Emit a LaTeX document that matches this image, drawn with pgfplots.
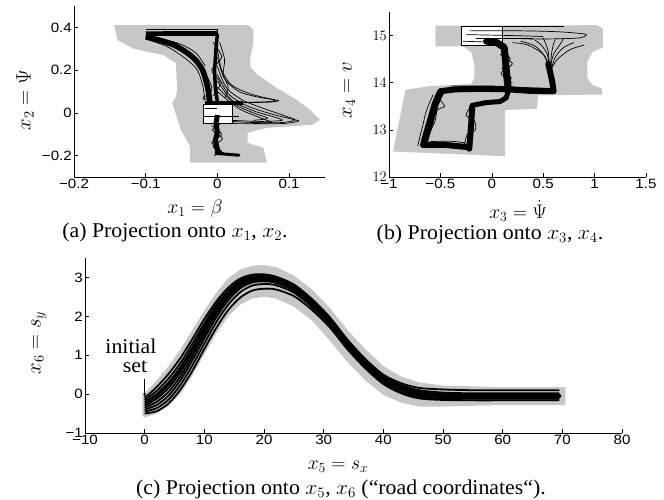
\documentclass[border=0pt]{standalone}
\usepackage{fontspec}
\setmainfont{Liberation Serif}
\setsansfont{Liberation Sans}
\newfontfamily\tickfont[FakeStretch=1.12]{Liberation Sans}
\usepackage{graphicx}
\usepackage{pgfplots}
\pgfplotsset{compat=1.18}
\usepackage{pgfplotstable}

\colorlet{reach}{black!22}
\newcommand{\lab}[1]{\scalebox{0.95}[0.95]{\fontsize{20}{22}\selectfont#1}}
\newcommand{\ylab}[1]{\scalebox{1}[1]{\fontsize{20}{22}\selectfont#1}}
\newcommand{\capt}[1]{\scalebox{1.04}[1]{\fontsize{21}{23}\selectfont#1}}

\pgfplotsset{
  matlab/.style={
    scale only axis,
    anchor=south west,
    axis x line=bottom, axis y line=left,
    axis line style={-, line width=0.6pt},
    tick align=inside,
    major tick length=4pt,
    tick style={black, line width=0.6pt},
    tick label style={font=\tickfont\fontsize{13.5}{15}\selectfont, inner sep=2pt},
  },
  bundle/.style={black, line width=#1, line join=round, line cap=round},
  band/.style={black, line width=#1, line join=round, line cap=butt},
  strand/.style={black, line width=0.7pt, smooth, tension=0.5},
}

% (c) road coordinates: sampled trajectories
\pgfplotstableread{
x    l1    l2    l3    l4    l5    l6    l7    l8    l9
0   -0.10 -0.15 -0.20 -0.25 -0.30 -0.35 -0.40 -0.45 -0.50
2    0.18  0.08  0.00 -0.06 -0.12 -0.20 -0.28 -0.36 -0.44
4    0.52  0.40  0.30  0.24  0.16  0.06 -0.04 -0.14 -0.24
6    0.93  0.80  0.70  0.64  0.56  0.46  0.36  0.24  0.12
8    1.42  1.30  1.20  1.14  1.06  0.97  0.87  0.74  0.60
10   1.93  1.82  1.74  1.68  1.61  1.53  1.43  1.30  1.16
12   2.38  2.30  2.24  2.19  2.12  2.06  1.97  1.85  1.70
14   2.74  2.67  2.62  2.58  2.53  2.48  2.41  2.30  2.16
16   2.97  2.92  2.88  2.85  2.81  2.77  2.72  2.62  2.48
18   3.07  3.03  3.00  2.97  2.94  2.91  2.87  2.79  2.66
20   3.08  3.04  3.01  2.98  2.96  2.93  2.90  2.83  2.71
22   3.02  2.98  2.95  2.93  2.91  2.89  2.86  2.80  2.69
25   2.82  2.78  2.75  2.73  2.71  2.69  2.66  2.61  2.52
28   2.45  2.41  2.38  2.36  2.34  2.32  2.29  2.24  2.17
31   1.98  1.94  1.91  1.89  1.87  1.85  1.82  1.78  1.72
34   1.40  1.36  1.33  1.31  1.29  1.27  1.25  1.21  1.15
37   0.90  0.86  0.83  0.81  0.79  0.77  0.75  0.71  0.66
40   0.50  0.46  0.43  0.41  0.39  0.37  0.35  0.31  0.26
43   0.28  0.23  0.20  0.18  0.16  0.14  0.11  0.06  0.02
46   0.16  0.10  0.06  0.04  0.02  0.00 -0.03 -0.07 -0.11
50   0.12  0.04  0.00 -0.02 -0.04 -0.06 -0.08 -0.12 -0.15
55   0.10  0.02 -0.02 -0.04 -0.05 -0.07 -0.09 -0.12 -0.16
60   0.10  0.02 -0.02 -0.04 -0.05 -0.07 -0.09 -0.12 -0.16
65   0.10  0.02 -0.02 -0.04 -0.05 -0.07 -0.09 -0.12 -0.16
69.5 0.10  0.02 -0.02 -0.04 -0.05 -0.07 -0.09 -0.12 -0.16
}\trajc

\begin{document}
\begin{tikzpicture}[x=1pt,y=1pt, every node/.append style={inner sep=0.5pt}]
\useasboundingbox (0,0) rectangle (664,-500);

% ---------------- (a) ----------------
\begin{axis}[matlab, at={(74pt,-177pt)}, width=251pt, height=171pt,
  xmin=-0.2, xmax=0.15, ymin=-0.3, ymax=0.5,
  xtick={-0.2,-0.1,0,0.1}, xticklabels={−0.2,−0.1,0,0.1},
  ytick={-0.2,0,0.2,0.4}, yticklabels={−0.2,0,0.2,0.4}]
\addplot[fill=reach, draw=none] coordinates {(-0.144,0.41) (0.043,0.41) (0.05,0.39)
  (0.05,0.326) (0.046,0.26) (0.046,0.214) (0.055,0.18) (0.083,0.116) (0.111,0.06)
  (0.129,0.014) (0.143,-0.033) (0.132,-0.056) (0.069,-0.07) (0.042,-0.093)
  (0.042,-0.14) (0.064,-0.163) (0.069,-0.233) (-0.038,-0.233) (-0.038,-0.158)
  (-0.051,-0.079) (-0.063,0.047) (-0.058,0.074) (-0.056,0.107) (-0.058,0.232)
  (-0.075,0.27) (-0.117,0.30) (-0.139,0.34)} -- cycle;
\addplot[fill=white, draw=black, line width=0.5pt] coordinates {(-0.02,-0.05) (0.02,-0.05) (0.02,0.04) (-0.02,0.04)} -- cycle;
% top and left bundles
\addplot[band=4.5pt] coordinates {(-0.1,0.368) (0.0,0.368)};
\addplot[black, line width=0.7pt] coordinates {(-0.1,0.392) (0.0,0.392) (0.0,0.34)};
\addplot[black, line width=0.7pt] coordinates {(-0.1,0.38) (0.0,0.381)};
\addplot[band=5.5pt, smooth] coordinates {(-0.1,0.357) (-0.061,0.318) (-0.035,0.262)
  (-0.021,0.202) (-0.014,0.124) (-0.011,0.062) (-0.01,0.04)};
\addplot[strand] coordinates {(-0.1,0.345) (-0.07,0.31) (-0.045,0.255) (-0.028,0.2) (-0.02,0.12) (-0.018,0.06)};
\addplot[strand] coordinates {(-0.09,0.345) (-0.055,0.31) (-0.03,0.25) (-0.016,0.18) (-0.008,0.12) (-0.012,0.07) (-0.02,0.065) (-0.018,0.08) (-0.01,0.07)};
\addplot[strand] coordinates {(-0.1,0.362) (-0.075,0.345) (-0.05,0.32) (-0.03,0.28) (-0.017,0.22)};
\addplot[band=3.5pt] coordinates {(0.0,0.37) (-0.002,0.3) (-0.004,0.2) (-0.003,0.12) (0.0,0.05)};
% right loops
\addplot[strand] coordinates {(0.0,0.30) (0.006,0.2) (0.02,0.13) (0.045,0.09) (0.07,0.068) (0.085,0.057) (0.07,0.05) (0.03,0.048) (0.0,0.048)};
\addplot[strand] coordinates {(0.0,0.26) (0.01,0.16) (0.03,0.10) (0.055,0.075) (0.08,0.06) (0.07,0.052) (0.04,0.05)};
\addplot[strand] coordinates {(0.0,0.22) (0.012,0.12) (0.035,0.06) (0.065,0.02) (0.095,-0.015) (0.108,-0.033) (0.09,-0.045) (0.05,-0.045) (0.02,-0.04)};
\addplot[strand] coordinates {(0.0,0.18) (0.015,0.09) (0.04,0.035) (0.075,-0.005) (0.105,-0.03) (0.113,-0.038) (0.09,-0.05) (0.02,-0.05)};
\addplot[strand] coordinates {(0.0,0.15) (0.02,0.06) (0.05,0.01) (0.08,-0.02) (0.09,-0.035) (0.06,-0.04) (0.02,-0.035)};
\addplot[strand] coordinates {(0.0,0.12) (0.025,0.04) (0.05,0.0) (0.07,-0.025) (0.05,-0.035)};
\addplot[strand] coordinates {(0.0,0.1) (0.03,0.02) (0.065,-0.03) (0.075,-0.045) (0.05,-0.05)};
\addplot[strand] coordinates {(0.003,0.33) (0.01,0.25) (0.008,0.18) (0.015,0.12) (0.01,0.07)};
\addplot[strand] coordinates {(-0.006,0.33) (0.006,0.26) (-0.008,0.2) (0.004,0.14) (-0.006,0.08)};
\addplot[band=4pt] coordinates {(-0.018,0.045) (0.035,0.045)};
\addplot[black, line width=1.2pt] coordinates {(-0.018,0.02) (0.0,0.02)};
\addplot[black, line width=0.6pt] coordinates {(-0.02,-0.015) (0.03,-0.015)};
% stem
\addplot[band=5pt] coordinates {(0.0,-0.01) (-0.002,-0.05) (0.0,-0.09) (-0.003,-0.13) (0.0,-0.17) (0.0,-0.195)};
\addplot[bundle=3pt] coordinates {(0.0,-0.19) (0.03,-0.198)};
\addplot[strand] coordinates {(-0.008,-0.06) (0.006,-0.1) (-0.008,-0.14) (0.006,-0.18) (-0.005,-0.2)};
\addplot[strand] coordinates {(0.005,-0.05) (-0.007,-0.08) (0.007,-0.12) (-0.006,-0.16) (0.01,-0.19)};
\end{axis}
\node[rotate=90] at (25,-100) {\ylab{$x_2 = \Psi$}};
\node at (195,-209) {\lab{$x_1 = \beta$}};
\node at (175,-232) {\capt{(a) Projection onto $x_1$, $x_2$.}};

% ---------------- (b) ----------------
\begin{axis}[matlab, at={(389pt,-177pt)}, width=257pt, height=165pt,
  xmin=-1, xmax=1.5, ymin=12, ymax=15.5,
  xtick={-1,-0.5,0,0.5,1,1.5}, xticklabels={−1,−0.5,0,0.5,1,1.5},
  ytick={12,13,14,15}]
\addplot[fill=reach, draw=none] coordinates {(-0.55,15.21) (1.02,15.22) (1.08,15.15)
  (1.08,14.75) (0.98,14.65) (0.93,14.45) (0.93,14.1) (0.98,13.95) (1.07,13.88)
  (1.07,13.75) (0.45,13.73) (0.44,13.45) (0.13,13.42) (0.13,12.44) (-0.96,12.54)
  (-0.9,13.2) (-0.84,13.85) (-0.6,13.93) (-0.2,13.97) (-0.17,14.1) (-0.17,14.4)
  (-0.2,14.65) (-0.28,14.77) (-0.55,14.77)} -- cycle;
\addplot[fill=white, draw=black, line width=0.5pt] coordinates {(-0.3,14.8) (0.1,14.8) (0.1,15.2) (-0.3,15.2)} -- cycle;
\addplot[black, line width=0.6pt] coordinates {(0.1,15.2) (0.7,15.2)};
\addplot[strand] coordinates {(-0.22,15.1) (0.3,15.1) (0.65,15.08) (0.88,15.04) (0.92,15.01) (0.85,14.95) (0.6,14.93) (0.3,14.93)};
\addplot[strand] coordinates {(-0.25,15.02) (0.2,15.0) (0.5,14.98)};
\addplot[strand] coordinates {(-0.15,14.95) (0.4,14.95)};
\addplot[strand] coordinates {(-0.28,14.88) (0.0,14.86)};
% loop bundles
\addplot[bundle=7pt] coordinates {(-0.05,14.88) (0.05,14.85) (0.12,14.75) (0.13,14.55) (0.14,14.3) (0.15,14.05) (0.16,13.88)};
\addplot[bundle=6pt] coordinates {(0.6,13.82) (0.35,13.83) (0.16,13.86) (-0.1,13.87) (-0.35,13.86) (-0.5,13.82)};
\addplot[bundle=7pt] coordinates {(-0.5,13.8) (-0.55,13.55) (-0.59,13.25) (-0.63,12.95) (-0.66,12.72)};
\addplot[bundle=6pt] coordinates {(-0.67,12.68) (-0.45,12.68) (-0.22,12.63)};
\addplot[bundle=6pt] coordinates {(-0.22,12.6) (-0.21,12.85) (-0.2,13.15) (-0.19,13.5)};
\addplot[bundle=5pt] coordinates {(-0.19,13.52) (-0.05,13.58) (0.08,13.6) (0.14,13.68) (0.16,13.82)};
\addplot[bundle=6pt] coordinates {(0.6,13.82) (0.59,14.0) (0.57,14.2) (0.55,14.4)};
% ragged strands
\addplot[strand] coordinates {(-0.45,13.82) (-0.5,13.65) (-0.46,13.5) (-0.53,13.42) (-0.55,13.2) (-0.6,12.95) (-0.63,12.7)};
\addplot[strand] coordinates {(-0.57,13.75) (-0.62,13.5) (-0.65,13.3) (-0.67,13.1) (-0.7,12.85) (-0.72,12.66)};
\addplot[strand] coordinates {(-0.27,12.62) (-0.24,12.9) (-0.16,13.0) (-0.17,13.2) (-0.25,13.3) (-0.22,13.45)};
\addplot[strand] coordinates {(0.1,14.7) (0.18,14.5) (0.1,14.3) (0.19,14.1) (0.12,13.95)};
\addplot[strand] coordinates {(0.08,14.6) (0.2,14.4) (0.09,14.2) (0.2,14.0)};
\addplot[strand] coordinates {(-0.4,13.93) (0.0,13.93) (0.3,13.9) (0.55,13.88)};
\addplot[strand] coordinates {(-0.6,12.75) (-0.4,12.76) (-0.25,12.72)};
% fan
\addplot[strand] coordinates {(0.56,14.3) (0.52,14.55) (0.42,14.78) (0.28,14.88)};
\addplot[strand] coordinates {(0.56,14.3) (0.54,14.6) (0.48,14.8) (0.42,14.9)};
\addplot[strand] coordinates {(0.57,14.3) (0.58,14.6) (0.6,14.82) (0.62,14.92)};
\addplot[strand] coordinates {(0.58,14.3) (0.62,14.55) (0.7,14.75) (0.8,14.85)};
\addplot[strand] coordinates {(0.58,14.3) (0.64,14.5) (0.76,14.7) (0.9,14.8)};
\addplot[strand] coordinates {(0.57,14.35) (0.6,14.6) (0.66,14.8) (0.7,14.95)};
\addplot[strand] coordinates {(0.56,14.35) (0.55,14.65) (0.52,14.85) (0.5,14.95)};
\addplot[strand] coordinates {(0.56,14.3) (0.5,14.6) (0.35,14.8) (0.2,14.85)};
\end{axis}
\node[rotate=90] at (349,-90) {\ylab{$x_4 = v$}};
\node at (518,-211) {\lab{$x_3 = \dot{\Psi}$}};
\node at (490,-234) {\capt{(b) Projection onto $x_3$, $x_4$.}};

% ---------------- (c) ----------------
\begin{axis}[matlab, at={(85pt,-433pt)}, width=537pt, height=175pt,
  xmin=-10, xmax=80, ymin=-1, ymax=3.5,
  xtick={-10,0,...,80}, xticklabels={−10,0,10,20,30,40,50,60,70,80},
  ytick={-1,0,1,2,3}, yticklabels={−1,0,1,2,3}]
\addplot[fill=reach, draw=none] coordinates {(-0.4,-0.05) (0,0.02) (2,0.35) (4,0.72)
  (6,1.15) (8,1.65) (10,2.15) (12,2.6) (14,2.98) (16,3.2) (18,3.3) (20,3.32)
  (22,3.27) (25,3.05) (28,2.7) (31,2.22) (34,1.65) (37,1.15) (40,0.72) (43,0.45)
  (46,0.3) (50,0.22) (55,0.2) (60,0.18) (65,0.18) (70.5,0.18) (70.5,-0.28)
  (65,-0.28) (60,-0.28) (55,-0.3) (50,-0.32) (46,-0.32) (43,-0.22) (40,-0.02)
  (37,0.35) (34,0.82) (31,1.38) (28,1.9) (25,2.25) (22,2.46) (20,2.5) (18,2.46)
  (16,2.3) (14,2.0) (12,1.55) (10,1.02) (8,0.48) (6,0.0) (4,-0.3) (2,-0.5)
  (0,-0.6) (-0.4,-0.55)} -- cycle;
\pgfplotsinvokeforeach{1,...,9}{
  \addplot[black, line width=1.8pt, smooth] table[x=x, y=l#1] {\trajc};
}
\addplot[bundle=4pt] coordinates {(44,0.0) (50,-0.04) (69.5,-0.05)};
\draw[->, >=stealth, line width=0.6pt] (axis cs:0,0.38) -- (axis cs:0,-0.07);
\node at (axis cs:-2.3,1.22) {\capt{initial}};
\node at (axis cs:-1.6,0.7) {\capt{set}};
\end{axis}
\node[rotate=90] at (39,-343) {\ylab{$x_6 = s_y$}};
\node at (338,-467) {\lab{$x_5 = s_x$}};
\node at (341,-489) {\capt{(c) Projection onto $x_5$, $x_6$ (“road coordinates“).}};
\end{tikzpicture}
\end{document}
